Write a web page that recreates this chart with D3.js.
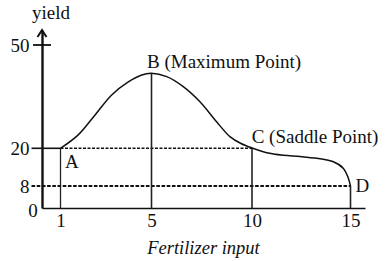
<!DOCTYPE html>
<html><head><meta charset="utf-8">
<script src="https://cdn.jsdelivr.net/npm/d3@7"></script>
<style>
html,body{margin:0;padding:0;background:#fff;}
svg{display:block;}
text{font-family:"Liberation Serif","Times New Roman",serif;fill:#111;}
</style></head>
<body>
<svg id="chart" width="391" height="261"></svg>
<script>
// ---- data ----
const xTicks = [1, 5, 10, 15];
const yTicks = [8, 20, 50];
const curveX = [1, 1.78, 2.52, 3.25, 3.98, 4.57, 5, 5.76, 6.58, 7.41, 8.24, 8.9, 9.45, 10, 10.75, 11.59, 12.44, 13.29, 14.13, 14.64, 14.89, 15];
const curveY = [20, 23.9, 29.7, 35.5, 39.3, 41.3, 41.8, 40.8, 37.9, 33.5, 27.7, 23.4, 21.4, 20.1, 18.6, 17.8, 17.4, 16.8, 15.7, 13.6, 10.5, 8];
const pointNames = ["A", "B (Maximum Point)", "C (Saddle Point)", "D"];
const pointX = [1, 5, 10, 15];
const pointY = [20, 41.8, 20, 8];
const xTitle = "Fertilizer input";
const yTitle = "yield";

const svg = d3.select("#chart");
// piecewise scales matching the hand-drawn axis spacing
const x = d3.scaleLinear().domain([0, 1, 5, 10, 15, 15.75]).range([42, 60.5, 151.5, 252, 350.5, 365]);
const y = d3.scaleLinear().domain([0, 8, 20, 50, 54.4]).range([208, 186, 148.3, 45, 30]);

const FS = 19;

// x axis
const gx = svg.append("g").attr("transform", `translate(0,${y(0)})`)
  .call(d3.axisBottom(x).tickValues(xTicks).tickSize(0).tickPadding(5).tickFormat(d3.format("d")));
gx.select(".domain").attr("stroke", "#111").attr("stroke-width", 1.6);
gx.selectAll("text").attr("font-size", FS).attr("font-family", "Liberation Serif").attr("fill", "#111")
  .attr("dy", null).attr("y", 0).attr("transform", "translate(0,18.5)");

// y axis
const gy = svg.append("g").attr("transform", `translate(${x(0)},0)`)
  .call(d3.axisLeft(y).tickValues(yTicks).tickSize(0).tickPadding(12.5).tickFormat(d3.format("d")));
gy.select(".domain").attr("stroke", "#111").attr("stroke-width", 2.4);
gy.selectAll("text").attr("font-size", FS).attr("font-family", "Liberation Serif").attr("fill", "#111")
  .attr("dy", "0.35em");
// zero label
svg.append("text").attr("x", x(0) - 9).attr("y", y(0) + 8.5).attr("text-anchor", "middle")
  .attr("font-size", FS).text("0");

// arrowhead
const ax = x(0), ay = y(54.4);
svg.append("path").attr("d", `M${ax - 4.5},${ay + 7}L${ax},${ay}L${ax + 4.5},${ay + 7}`)
  .attr("fill", "none").attr("stroke", "#111").attr("stroke-width", 2);
// tick at 50
svg.append("line").attr("x1", x(0) - 9).attr("x2", x(0) + 9).attr("y1", y(50)).attr("y2", y(50))
  .attr("stroke", "#111").attr("stroke-width", 1.8);
// solid line at 20 from left tick to A
svg.append("line").attr("x1", x(0) - 10.5).attr("x2", x(1)).attr("y1", y(20)).attr("y2", y(20))
  .attr("stroke", "#111").attr("stroke-width", 1.6);
// dashed at 20 from A to C
svg.append("line").attr("x1", x(1)).attr("x2", x(10)).attr("y1", y(20)).attr("y2", y(20))
  .attr("stroke", "#111").attr("stroke-width", 1.6).attr("stroke-dasharray", "3,1.5");
// dashed at 8
svg.append("line").attr("x1", x(0) - 10.5).attr("x2", x(15)).attr("y1", y(8)).attr("y2", y(8))
  .attr("stroke", "#111").attr("stroke-width", 1.9).attr("stroke-dasharray", "3.6,1.6");

// verticals
pointX.forEach((px, i) => {
  svg.append("line").attr("x1", x(px)).attr("x2", x(px)).attr("y1", y(pointY[i])).attr("y2", y(0))
    .attr("stroke", "#222").attr("stroke-width", i === 0 ? 1.3 : 1.6);
});

// curve
const pts = curveX.map((d, i) => [d, curveY[i]]);
svg.append("path").datum(pts)
  .attr("d", d3.line().x(d => x(d[0])).y(d => y(d[1])).curve(d3.curveCatmullRom.alpha(0.5)))
  .attr("fill", "none").attr("stroke", "#111").attr("stroke-width", 1.5);

// point labels
const labOff = [[4.5, 19.2], [-4.5, -5], [-0.3, -5], [5, 5.5]];
pointNames.forEach((n, i) => {
  svg.append("text").attr("x", x(pointX[i]) + labOff[i][0]).attr("y", y(pointY[i]) + labOff[i][1])
    .attr("font-size", FS).text(n);
});

// titles
svg.append("text").attr("x", 32).attr("y", 19).attr("font-size", FS).text(yTitle);
svg.append("text").attr("x", 203.5).attr("y", 254).attr("text-anchor", "middle")
  .attr("font-size", 18.5).attr("font-style", "italic").text(xTitle);
</script>
</body></html>
